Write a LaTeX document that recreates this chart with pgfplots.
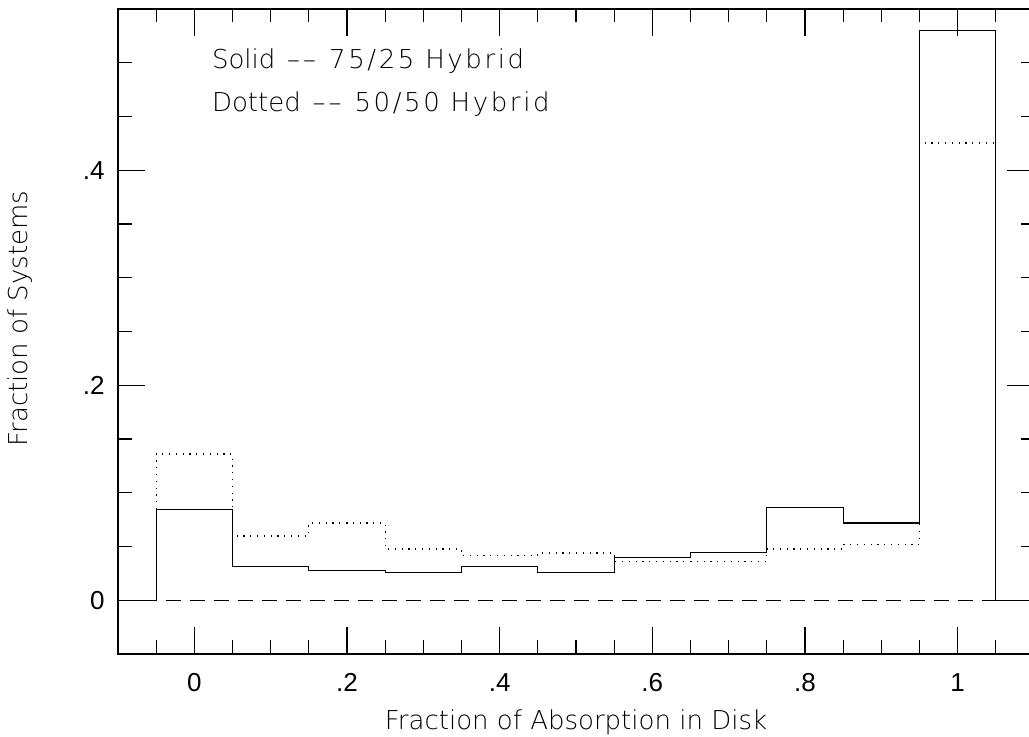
\documentclass[border=0pt]{standalone}
\usepackage{pgfplots}
\pgfplotsset{compat=1.18}
\usepackage{fontspec}
\setmainfont{DejaVu Sans ExtraLight}
\newfontfamily\widefont{DejaVu Sans ExtraLight}[LetterSpace=10]
\newfontfamily\tickfont{Liberation Sans}

% Fraction of systems per bin of absorption fraction (bin centres; the
% zero entries at -0.1 and 1.1 close the outline at the bin edges)
\begin{document}
\begin{tikzpicture}
\useasboundingbox (-59pt,-41.5pt) rectangle (455.5pt,327pt);
\begin{axis}[
  scale only axis,
  width=458pt, height=322.5pt,
  xmin=-0.1, xmax=1.1, ymin=-0.05, ymax=0.55,
  axis line style={line width=0.6pt},
  xtick={0,0.2,0.4,0.6,0.8,1},
  xticklabels={{\tickfont 0},{\tickfont .2},{\tickfont .4},{\tickfont .6},{\tickfont .8},{\tickfont 1}},
  ytick={0,0.2,0.4},
  yticklabels={{\tickfont 0},{\tickfont .2},{\tickfont .4}},
  minor xtick={-0.05,0.05,0.1,0.15,0.25,0.3,0.35,0.45,0.5,0.55,0.65,0.7,0.75,0.85,0.9,0.95,1.05},
  minor ytick={-0.05,0.05,0.1,0.15,0.25,0.3,0.35,0.45,0.5},
  major tick length=13.5pt, minor tick length=6.75pt,
  tick style={line width=0.55pt, black},
  tick pos=both,
  tick label style={font=\fontsize{13}{15}\selectfont},
  xticklabel style={yshift=-6.2pt},
  yticklabel style={xshift=-3.2pt},
  label style={font=\fontsize{13}{15}\selectfont},
  xlabel={Fraction of Absorption in Disk},
  xlabel style={at={(axis description cs:0.5,0)}, anchor=base, yshift=-38pt},
  ylabel={Fraction of Systems},
  ylabel style={at={(axis description cs:-0.0983,0.52)}, anchor=base},
  clip=false,
]
% zero level
\addplot[black, line width=0.55pt, dash pattern=on 7.5pt off 4.5pt] coordinates {(-0.1,0) (1.1,0)};
% 50/50 hybrid
\addplot[black, line width=0.6pt, const plot mark mid, dash pattern=on 0.6pt off 2.8pt] coordinates {
  (-0.1,0) (0,0.136) (0.1,0.0598) (0.2,0.0719) (0.3,0.0477) (0.4,0.0415)
  (0.5,0.0440) (0.6,0.0363) (0.7,0.0363) (0.8,0.0477) (0.9,0.0518) (1.0,0.4254) (1.1,0)};
% 75/25 hybrid
\addplot[black, line width=0.55pt, const plot mark mid] coordinates {
  (-0.1,0) (0,0.0840) (0.1,0.0316) (0.2,0.0279) (0.3,0.0257) (0.4,0.0316)
  (0.5,0.0257) (0.6,0.0397) (0.7,0.0440) (0.8,0.0859) (0.9,0.0719) (1.0,0.530) (1.1,0)};
\node[anchor=base west, inner sep=0, font=\fontsize{13}{15}\selectfont] at (axis cs:0.0227,0.4949)
  {Solid\hspace{0.45em}\textendash\kern1.5pt\textendash\hspace{0.5em}{\widefont 75/25 Hybrid}};
\node[anchor=base west, inner sep=0, font=\fontsize{13}{15}\selectfont] at (axis cs:0.0227,0.4542)
  {Dotted\hspace{0.45em}\textendash\kern1.5pt\textendash\hspace{0.5em}{\widefont 50/50 Hybrid}};
\end{axis}
\end{tikzpicture}
\end{document}
